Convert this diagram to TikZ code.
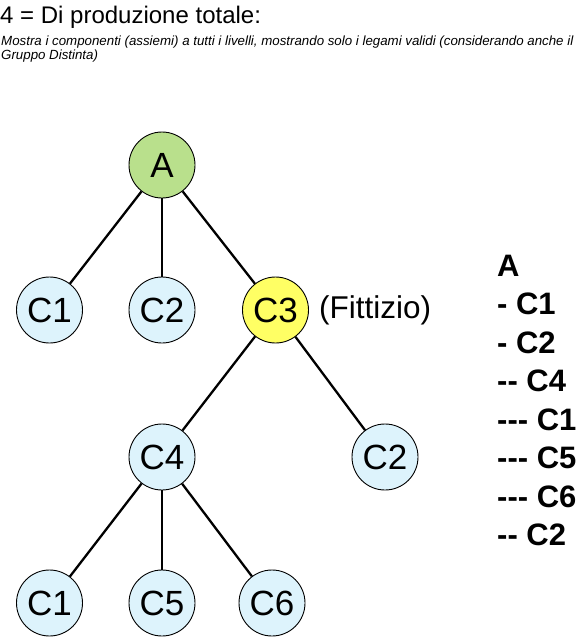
\documentclass[tikz,border=0pt]{standalone}
\usepackage{fontspec}
\setmainfont{Liberation Sans}
\definecolor{ngreen}{RGB}{185,224,140}
\definecolor{nblue}{RGB}{221,243,252}
\definecolor{nyellow}{RGB}{255,255,100}
\begin{document}
\begin{tikzpicture}[x=1pt,y=-1pt,
  circ/.style={circle,draw=black,line width=0.9pt,minimum size=66pt,inner sep=0pt,font=\fontsize{35}{40}\selectfont,fill=nblue},
  edge/.style={line width=2.3pt},
  lst/.style={anchor=base west,font=\bfseries\fontsize{31}{36}\selectfont,inner sep=0pt}]
\useasboundingbox (0,0) rectangle (578,638);
\node[anchor=base west,inner sep=0pt,font=\fontsize{24}{27}\selectfont] (title) at (0,23) {4 = Di produzione totale:};
\node[anchor=base west,inner sep=0pt,font=\itshape\fontsize{13.3}{15}\selectfont] (sub1) at (1,45) {Mostra i componenti (assiemi) a tutti i livelli, mostrando solo i legami validi (considerando anche il};
\node[anchor=base west,inner sep=0pt,font=\itshape\fontsize{13.3}{15}\selectfont] (sub2) at (1,59) {Gruppo Distinta)};
\node[circ,fill=ngreen] (A) at (162,165) {A};
\node[circ] (C1a) at (49.5,310) {C1};
\node[circ] (C2a) at (162,310) {C2};
\node[circ,fill=nyellow] (C3) at (275.5,310) {C3};
\node[circ] (C4) at (162,457) {C4};
\node[circ] (C2b) at (385,457) {C2};
\node[circ] (C1b) at (49.5,603) {C1};
\node[circ] (C5) at (162,603) {C5};
\node[circ] (C6) at (272,603) {C6};
\node[anchor=west,inner sep=0pt,font=\fontsize{31.5}{36}\selectfont] (fitt) at (319,310) {(Fittizio)};
\draw[edge] (A) -- (C1a);
\draw[edge] (A) -- (C2a);
\draw[edge] (A) -- (C3);
\draw[edge] (C3) -- (C4);
\draw[edge] (C3) -- (C2b);
\draw[edge] (C4) -- (C1b);
\draw[edge] (C4) -- (C5);
\draw[edge] (C4) -- (C6);
\node[lst] (l1) at (497,276) {A};
\node[lst] (l2) at (497,314.5) {- C1};
\node[lst] (l3) at (497,353) {- C2};
\node[lst] (l4) at (497,391.5) {-{}- C4};
\node[lst] (l5) at (497,430) {-{}-{}- C1};
\node[lst] (l6) at (497,468.5) {-{}-{}- C5};
\node[lst] (l7) at (497,507) {-{}-{}- C6};
\node[lst] (l8) at (497,545.5) {-{}- C2};
\end{tikzpicture}
\end{document}
